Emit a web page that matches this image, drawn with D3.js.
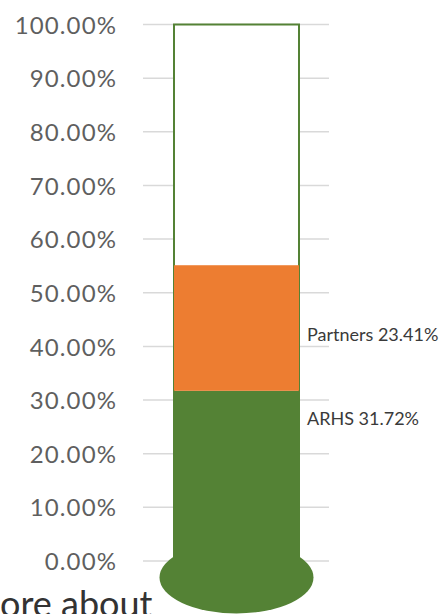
<!DOCTYPE html>
<html>
<head>
<meta charset="utf-8">
<script src="https://cdn.jsdelivr.net/npm/d3@7"></script>
<style>
  html, body { margin: 0; padding: 0; background: #fff; overflow: hidden; }
  svg { display: block; }
</style>
</head>
<body>
<svg id="chart" width="441" height="614"></svg>
<script>
// ---- data ----
const categories = ["ARHS", "Partners"];
const seriesValues = [0.3172, 0.2341];
const tickValues = [0, 0.1, 0.2, 0.3, 0.4, 0.5, 0.6, 0.7, 0.8, 0.9, 1.0];
const footerText = "ore about";

// ---- layout ----
const svg = d3.select("#chart");
const y = d3.scaleLinear().domain([0, 1]).range([561, 24.5]);
const x = d3.scaleBand().domain(["thermo"]).range([143.5, 329.5]).paddingInner(0).paddingOuter(0.244);
const fmt = d3.format(".2%");

const green = "#548235", orange = "#ED7D31";

// gridlines
svg.append("g").selectAll("line").data(tickValues).join("line")
  .attr("x1", 143).attr("x2", 329)
  .attr("y1", d => y(d)).attr("y2", d => y(d))
  .attr("stroke", "#d9d9d9").attr("stroke-width", 1.5);

// y axis labels via d3 axis
const axis = d3.axisLeft(y).tickValues(tickValues).tickFormat(fmt).tickSize(0).tickPadding(0);
const ag = svg.append("g").attr("transform", "translate(117,0)").call(axis);
ag.select(".domain").remove();
ag.selectAll("text")
  .attr("font-family", "Lato, sans-serif")
  .attr("font-size", 24)
  .attr("letter-spacing", 1.1)
  .attr("fill", "#5f5f5f")
  .attr("dy", "0.36em");

// stacked segments
let cum = 0;
const segs = categories.map((c, i) => {
  const s = { cat: c, v: seriesValues[i], y0: cum, y1: cum + seriesValues[i] };
  cum += seriesValues[i];
  return s;
});
const bx = x("thermo"), bw = x.bandwidth();
const cx = bx + bw / 2;

// outline (100%)
svg.append("rect")
  .attr("x", bx).attr("y", y(1)).attr("width", bw).attr("height", y(0) - y(1))
  .attr("fill", "#fff").attr("stroke", green).attr("stroke-width", 2);

svg.append("g").selectAll("rect").data(segs).join("rect")
  .attr("x", bx).attr("width", bw)
  .attr("y", d => y(d.y1)).attr("height", d => y(d.y0) - y(d.y1))
  .attr("fill", (d, i) => i === 0 ? green : orange);

// bulb
svg.append("ellipse")
  .attr("cx", cx).attr("cy", y(0) + 16.5)
  .attr("rx", 77).attr("ry", 36)
  .attr("fill", green);
svg.append("rect")
  .attr("x", bx).attr("y", y(0) - 20).attr("width", bw).attr("height", 30)
  .attr("fill", green);

// data labels
const labelFrac = [0.834, 0.443];
svg.append("g").selectAll("text").data(segs).join("text")
  .attr("x", bx + bw + 8)
  .attr("y", (d, i) => y(d.y0 + d.v * labelFrac[i]))
  .attr("dy", "0.35em")
  .attr("font-family", "Lato, sans-serif")
  .attr("font-size", 18)
  .attr("fill", "#3a3a3a")
  .text(d => `${d.cat} ${fmt(d.v)}`);

// footer cropped text
svg.append("text")
  .attr("x", 0).attr("y", 617)
  .attr("font-family", "Lato, sans-serif")
  .attr("font-size", 36)
  .attr("fill", "#333")
  .text(footerText);
</script>
</body>
</html>
